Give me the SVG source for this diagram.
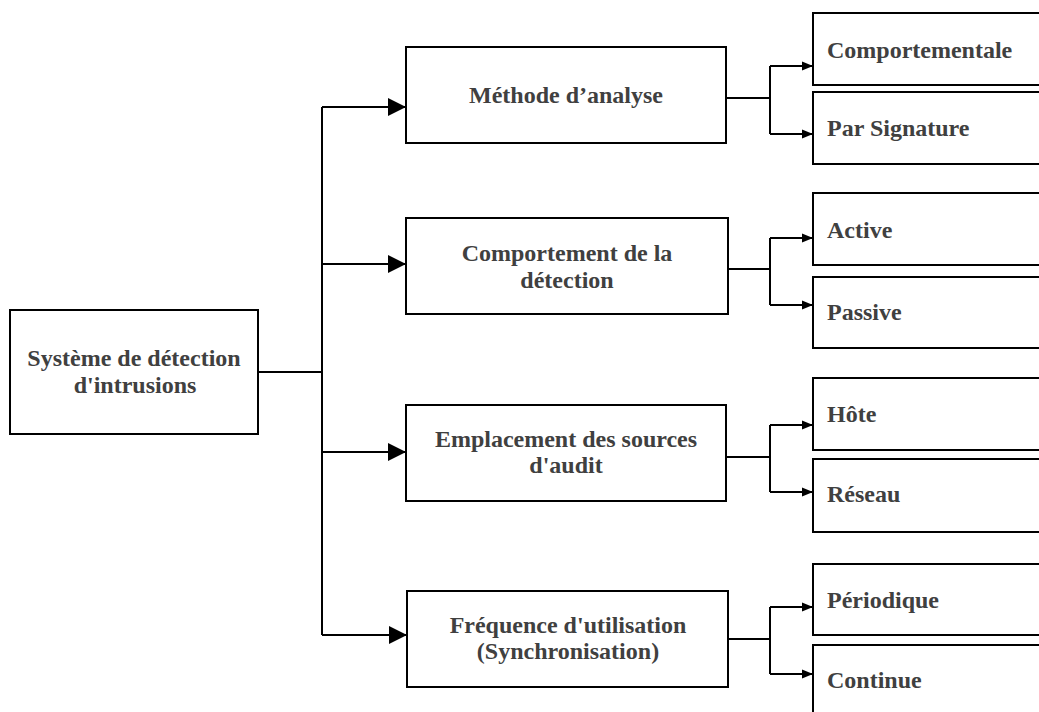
<svg xmlns="http://www.w3.org/2000/svg" width="1039" height="712" viewBox="0 0 1039 712">
  <style>
    .box { fill: #ffffff; stroke: #000000; stroke-width: 2; }
    .lbl { font-family: "Liberation Serif", "Times New Roman", serif; font-weight: bold; font-size: 24px; fill: #404040; }
    .c { text-anchor: middle; }
    .wire { fill: none; stroke: #000000; stroke-width: 2; }
    .big { marker-end: url(#arrowBig); }
    .small { marker-end: url(#arrowSmall); }
  </style>
  <defs>
    <marker id="arrowBig" markerUnits="userSpaceOnUse" markerWidth="18" markerHeight="18" refX="18" refY="9" orient="auto">
      <path d="M0,0 L18,9 L0,18 z" fill="#000000"/>
    </marker>
    <marker id="arrowSmall" markerUnits="userSpaceOnUse" markerWidth="11" markerHeight="10" refX="11" refY="5" orient="auto">
      <path d="M0,0.5 L11,5 L0,9.5 z" fill="#000000"/>
    </marker>
  </defs>
  <rect width="1039" height="712" fill="#ffffff"/>

  <!-- connectors -->
  <g id="connectors">
    <path class="wire" d="M258,372 H322"/>
    <path class="wire" d="M322,107 V635"/>
    <path class="wire big" d="M322,107 H406"/>
    <path class="wire big" d="M322,264 H406"/>
    <path class="wire big" d="M322,452 H406"/>
    <path class="wire big" d="M322,635 H407"/>

    <path class="wire" d="M726,98 H770 M770,66 V134"/>
    <path class="wire small" d="M770,66 H813"/>
    <path class="wire small" d="M770,134 H813"/>

    <path class="wire" d="M728,269 H770 M770,238 V305"/>
    <path class="wire small" d="M770,238 H813"/>
    <path class="wire small" d="M770,305 H813"/>

    <path class="wire" d="M726,457 H770 M770,425 V492"/>
    <path class="wire small" d="M770,425 H813"/>
    <path class="wire small" d="M770,492 H813"/>

    <path class="wire" d="M728,639 H770 M770,607 V674"/>
    <path class="wire small" d="M770,607 H813"/>
    <path class="wire small" d="M770,674 H813"/>
  </g>

  <!-- root -->
  <g id="ids">
    <rect class="box" x="10" y="310" width="248" height="124"/>
    <text class="lbl c" x="134" y="366">Système de détection</text>
    <text class="lbl c" x="135" y="393">d'intrusions</text>
  </g>

  <!-- criteria -->
  <g id="methode">
    <rect class="box" x="406" y="47" width="320" height="96"/>
    <text class="lbl c" x="566" y="103">Méthode d’analyse</text>
  </g>
  <g id="comportement">
    <rect class="box" x="406" y="218" width="322" height="96"/>
    <text class="lbl c" x="567" y="261">Comportement de la</text>
    <text class="lbl c" x="567" y="288">détection</text>
  </g>
  <g id="emplacement">
    <rect class="box" x="406" y="405" width="320" height="96"/>
    <text class="lbl c" x="566" y="447">Emplacement des sources</text>
    <text class="lbl c" x="566" y="473">d'audit</text>
  </g>
  <g id="frequence">
    <rect class="box" x="407" y="591" width="321" height="96"/>
    <text class="lbl c" x="568" y="633">Fréquence d'utilisation</text>
    <text class="lbl c" x="568" y="659">(Synchronisation)</text>
  </g>

  <!-- leaves -->
  <g id="comportementale">
    <rect class="box" x="813" y="13" width="240" height="72"/>
    <text class="lbl" x="827" y="58">Comportementale</text>
  </g>
  <g id="signature">
    <rect class="box" x="813" y="92" width="240" height="72"/>
    <text class="lbl" x="827" y="136">Par Signature</text>
  </g>
  <g id="active">
    <rect class="box" x="813" y="193" width="240" height="72"/>
    <text class="lbl" x="827" y="238">Active</text>
  </g>
  <g id="passive">
    <rect class="box" x="813" y="277" width="240" height="71"/>
    <text class="lbl" x="827" y="320">Passive</text>
  </g>
  <g id="hote">
    <rect class="box" x="813" y="378" width="240" height="72"/>
    <text class="lbl" x="827" y="422">Hôte</text>
  </g>
  <g id="reseau">
    <rect class="box" x="813" y="459" width="240" height="73"/>
    <text class="lbl" x="827" y="502">Réseau</text>
  </g>
  <g id="periodique">
    <rect class="box" x="813" y="564" width="240" height="71"/>
    <text class="lbl" x="827" y="608">Périodique</text>
  </g>
  <g id="continue">
    <rect class="box" x="813" y="645" width="240" height="80"/>
    <text class="lbl" x="827" y="688">Continue</text>
  </g>
</svg>
